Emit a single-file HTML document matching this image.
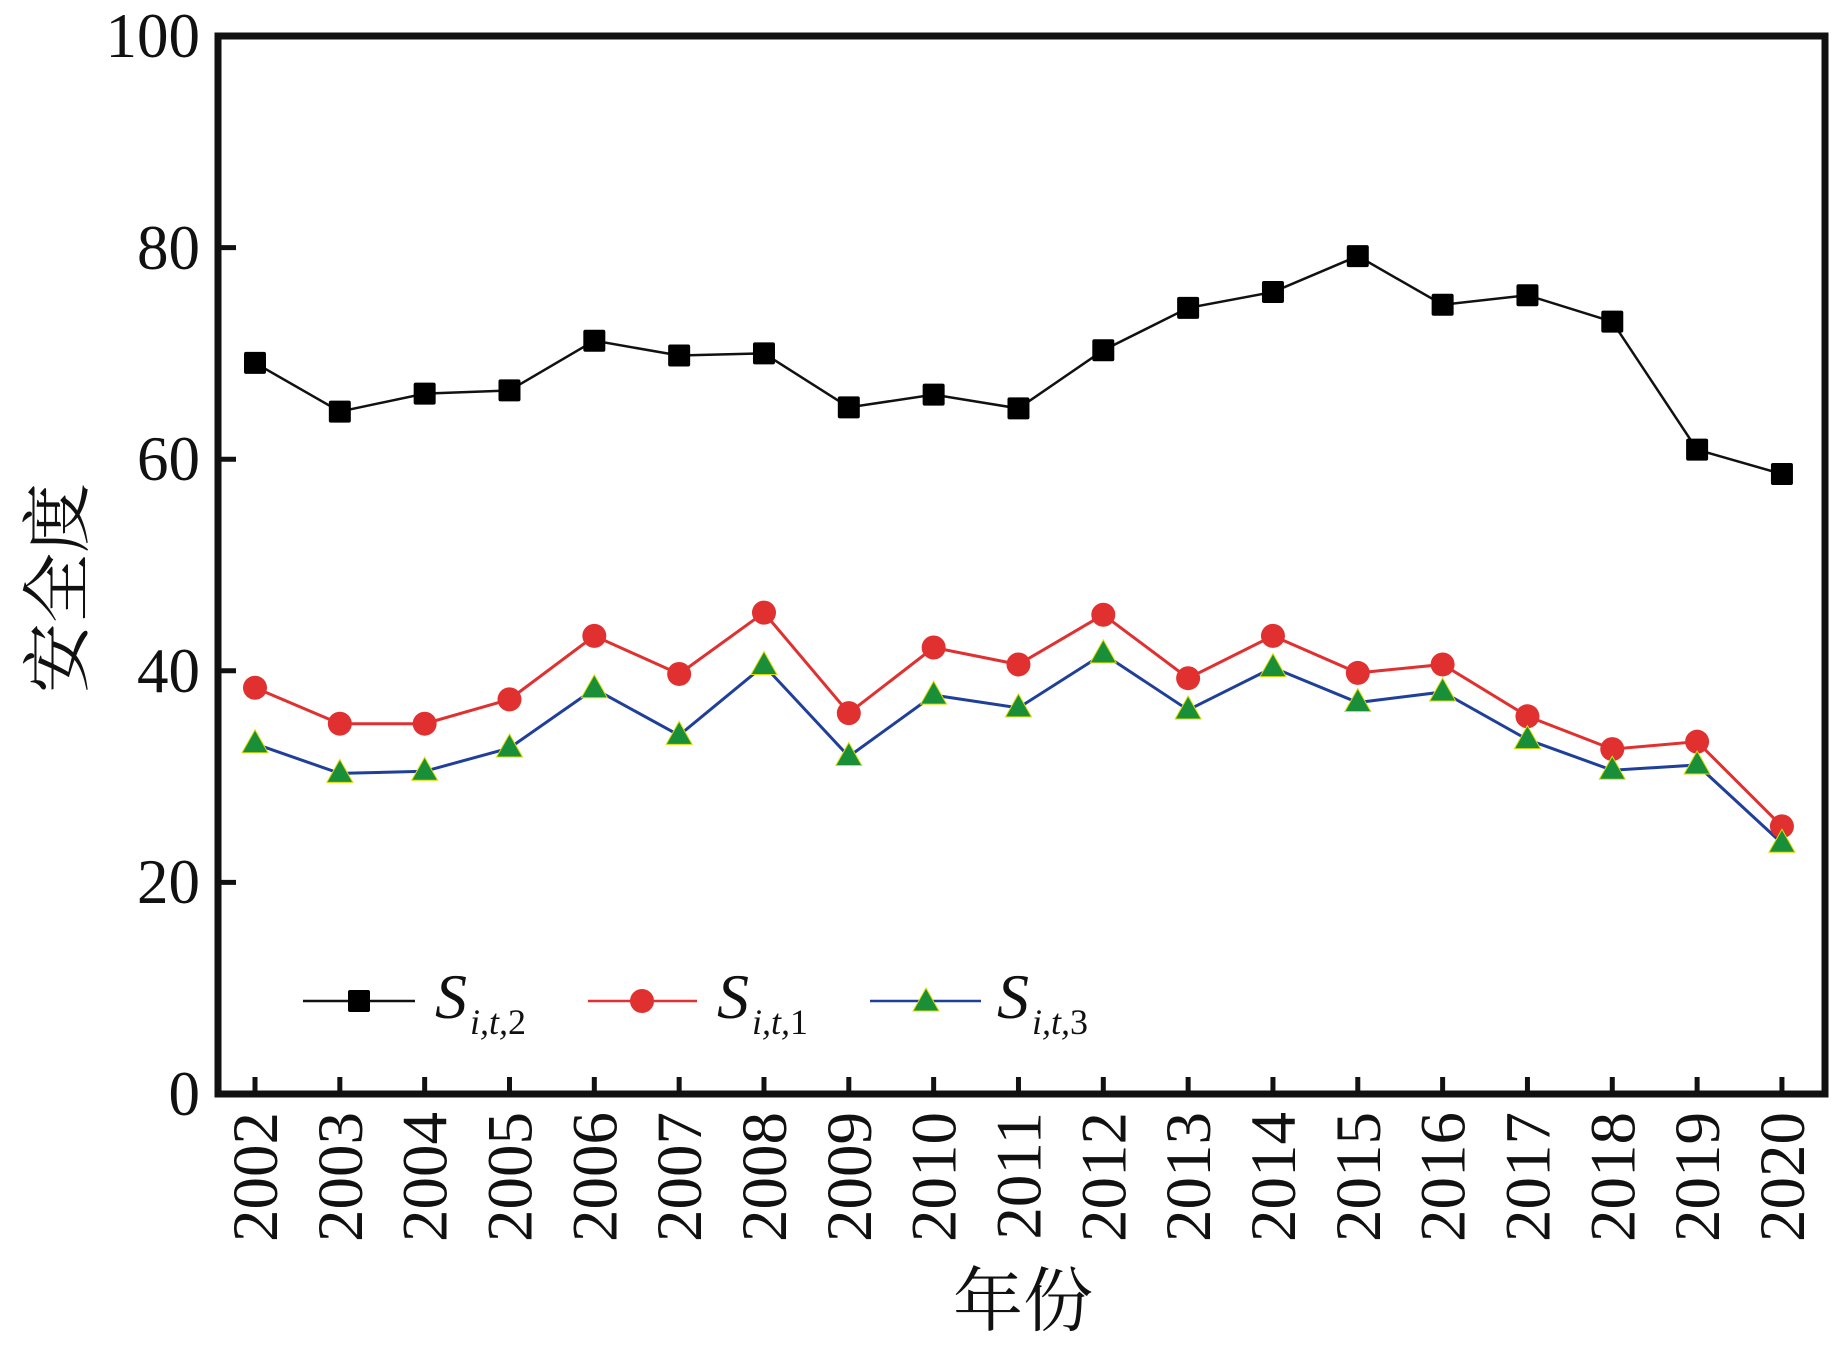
<!DOCTYPE html>
<html><head><meta charset="utf-8"><style>
html,body{margin:0;padding:0;background:#fff;width:1843px;height:1346px;overflow:hidden}
text{font-family:"Liberation Serif","Noto Serif CJK SC",serif;fill:#111}
</style></head><body>
<svg id="s" width="1843" height="1346" viewBox="0 0 1843 1346" xmlns="http://www.w3.org/2000/svg">
<rect x="218" y="36" width="1607" height="1058" fill="none" stroke="#111" stroke-width="7"/>
<g font-size="63" text-anchor="end">
<text x="200" y="57">100</text>
<text x="200" y="269">80</text>
<text x="200" y="480">60</text>
<text x="200" y="692">40</text>
<text x="200" y="903">20</text>
<text x="200" y="1115">0</text>
</g>
<text x="82" y="588" font-size="70" text-anchor="middle" transform="rotate(-90 82 588)" font-family="Noto Serif CJK SC,serif">安全度</text>
<text x="1023" y="1325" font-size="70" text-anchor="middle" font-family="Noto Serif CJK SC,serif">年份</text>
<g id="ticks" stroke="#111" stroke-width="5"></g>
<g id="xl" font-size="65"></g>
<g id="series"></g>
<g>
<line x1="303" y1="1001" x2="415" y2="1001" stroke="#111" stroke-width="2.5"/>
<rect x="348" y="990" width="22" height="22" rx="2" fill="#000"/>
<text x="435" y="1018" font-size="64" font-style="italic">S</text>
<text x="470" y="1034" font-size="36" font-style="italic">i,t,<tspan font-style="normal">2</tspan></text>
<line x1="588" y1="1001" x2="697" y2="1001" stroke="#e03030" stroke-width="2.5"/>
<circle cx="642" cy="1001" r="12" fill="#e03030"/>
<text x="717" y="1018" font-size="64" font-style="italic">S</text>
<text x="752" y="1034" font-size="36" font-style="italic">i,t,<tspan font-style="normal">1</tspan></text>
<line x1="870" y1="1001" x2="981" y2="1001" stroke="#1f3f9a" stroke-width="2.5"/>
<polygon points="926,988 939,1011 913,1011" fill="#1a8f3a" stroke="#dddd00" stroke-width="1"/>
<text x="997" y="1018" font-size="64" font-style="italic">S</text>
<text x="1032" y="1034" font-size="36" font-style="italic">i,t,<tspan font-style="normal">3</tspan></text>
</g>
</svg>
<script>
var NS="http://www.w3.org/2000/svg";
function el(t,a,p){var e=document.createElementNS(NS,t);for(var k in a)e.setAttribute(k,a[k]);p.appendChild(e);return e;}
var X=function(i){return 255+i*84.83;},Y=function(v){return 1094-v*10.58;};
var tk=document.getElementById('ticks'),xl=document.getElementById('xl'),se=document.getElementById('series');
for(var v=20;v<100;v+=20)el('line',{x1:218,y1:Y(v),x2:236,y2:Y(v)},tk);
for(var i=0;i<19;i++){var x=X(i);el('line',{x1:x,y1:1094,x2:x,y2:1077},tk);
var t=el('text',{x:0,y:0,'text-anchor':'end',transform:'translate('+(x+22)+',1112) rotate(-90)'},xl);t.textContent=String(2002+i);}
var B=[69.1,64.5,66.2,66.5,71.2,69.8,70.0,64.9,66.1,64.8,70.3,74.3,75.8,79.2,74.6,75.5,73.0,60.9,58.6];
var R=[38.4,35.0,35.0,37.3,43.3,39.7,45.5,36.0,42.2,40.6,45.3,39.3,43.3,39.8,40.6,35.7,32.6,33.3,25.3];
var G=[33.1,30.3,30.5,32.7,38.3,33.9,40.5,31.9,37.7,36.5,41.6,36.3,40.3,37.0,38.0,33.5,30.6,31.1,23.7];
function pts(d){return d.map(function(v,i){return X(i)+','+Y(v)}).join(' ');}
el('polyline',{points:pts(B),fill:'none',stroke:'#111','stroke-width':2.5},se);
el('polyline',{points:pts(R),fill:'none',stroke:'#e03030','stroke-width':3},se);
el('polyline',{points:pts(G),fill:'none',stroke:'#1f3f9a','stroke-width':3},se);
B.forEach(function(v,i){el('rect',{x:X(i)-11,y:Y(v)-11,width:22,height:22,rx:2,fill:'#000'},se);});
R.forEach(function(v,i){el('circle',{cx:X(i),cy:Y(v),r:12,fill:'#e03030'},se);});
G.forEach(function(v,i){var x=X(i),y=Y(v);el('polygon',{points:x+','+(y-14)+' '+(x+13)+','+(y+9)+' '+(x-13)+','+(y+9),fill:'#1a8f3a',stroke:'#dddd00','stroke-width':1},se);});
</script>
</body></html>
